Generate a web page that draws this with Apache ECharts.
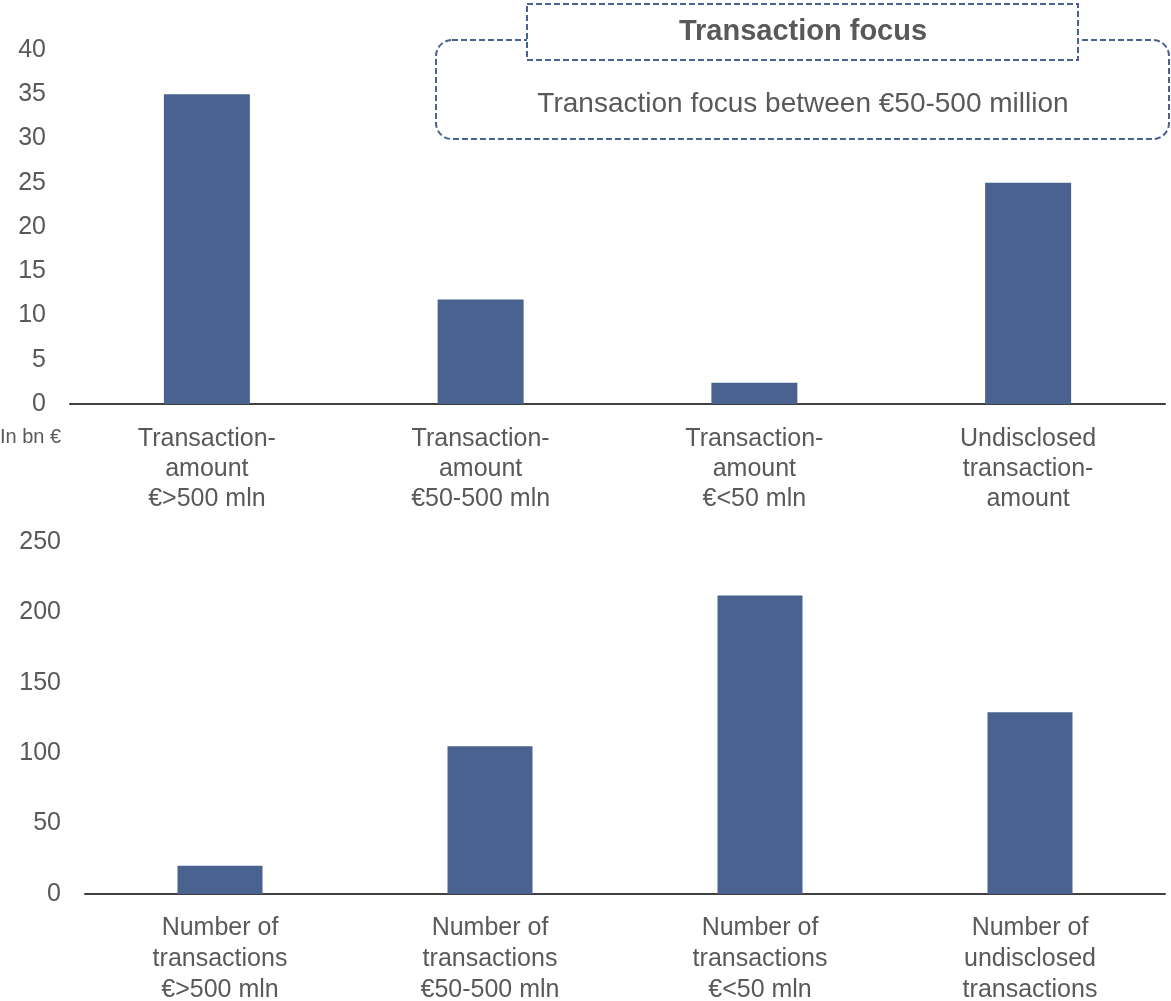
<!DOCTYPE html>
<html><head><meta charset="utf-8">
<script src="https://cdn.jsdelivr.net/npm/echarts@6/dist/echarts.min.js"></script>
<style>html,body{margin:0;padding:0;background:#fff}#c{width:1171px;height:1001px}</style>
</head><body><div id="c"></div>
<script>
const topCategories = ["Transaction-\namount\n€>500 mln", "Transaction-\namount\n€50-500 mln", "Transaction-\namount\n€<50 mln", "Undisclosed\ntransaction-\namount"];
const topValues = [35, 11.8, 2.4, 25];
const bottomCategories = ["Number of\ntransactions\n€>500 mln", "Number of\ntransactions\n€50-500 mln", "Number of\ntransactions\n€<50 mln", "Number of\nundisclosed\ntransactions"];
const bottomValues = [20, 105, 212, 129];
const unitLabel = "In bn €";
const boxTitle = "Transaction focus";
const boxText = "Transaction focus between €50-500 million";

const FONT = "Liberation Sans, Arial, sans-serif";
const TXT = "#595959";
const BAR = "#4A628F";
const chart = echarts.init(document.getElementById('c'));
function xAxisCommon(lh, margin) {
  return {
    type: 'category',
    axisTick: {show: false},
    axisLine: {lineStyle: {color: '#404040', width: 2}},
    axisLabel: {color: TXT, fontFamily: FONT, fontSize: 25, lineHeight: lh, margin: margin, interval: 0}
  };
}
const yAxisCommon = {
  type: 'value',
  splitLine: {show: false},
  axisLine: {show: false},
  axisTick: {show: false},
  axisLabel: {color: TXT, fontFamily: FONT, fontSize: 25, margin: 24}
};
chart.setOption({
  animation: false,
  grid: [
    {left: 70, right: 6, top: 50, height: 354, outerBoundsMode: 'none', containLabel: false},
    {left: 85, right: 6, top: 542, height: 352, outerBoundsMode: 'none', containLabel: false}
  ],
  xAxis: [
    Object.assign({gridIndex: 0, data: topCategories}, xAxisCommon(30, 20)),
    Object.assign({gridIndex: 1, data: bottomCategories}, xAxisCommon(31, 19))
  ],
  yAxis: [
    Object.assign({gridIndex: 0, min: 0, max: 40, interval: 5}, yAxisCommon),
    Object.assign({gridIndex: 1, min: 0, max: 250, interval: 50}, yAxisCommon)
  ],
  series: [
    {type: 'bar', xAxisIndex: 0, yAxisIndex: 0, data: topValues, barWidth: 86, itemStyle: {color: BAR}},
    {type: 'bar', xAxisIndex: 1, yAxisIndex: 1, data: bottomValues, barWidth: 85, itemStyle: {color: BAR}}
  ],
  graphic: [
    {type: 'text', left: 0, top: 427, style: {text: unitLabel, fill: TXT, font: '20px ' + FONT}},
    {type: 'rect', shape: {x: 436, y: 40, width: 733, height: 99, r: 16},
     style: {fill: 'none', stroke: '#4A628F', lineWidth: 2, lineDash: [6, 3]}},
    {type: 'rect', shape: {x: 527, y: 4, width: 551, height: 56, r: 0},
     style: {fill: '#fff', stroke: '#4A628F', lineWidth: 2, lineDash: [6, 3]}},
    {type: 'text', x: 803, y: 32, style: {text: boxTitle, fill: TXT, font: 'bold 29px ' + FONT, align: 'center', verticalAlign: 'middle'}},
    {type: 'text', x: 803, y: 104, style: {text: boxText, fill: TXT, font: '28px ' + FONT, align: 'center', verticalAlign: 'middle'}}
  ]
});
</script></body></html>
